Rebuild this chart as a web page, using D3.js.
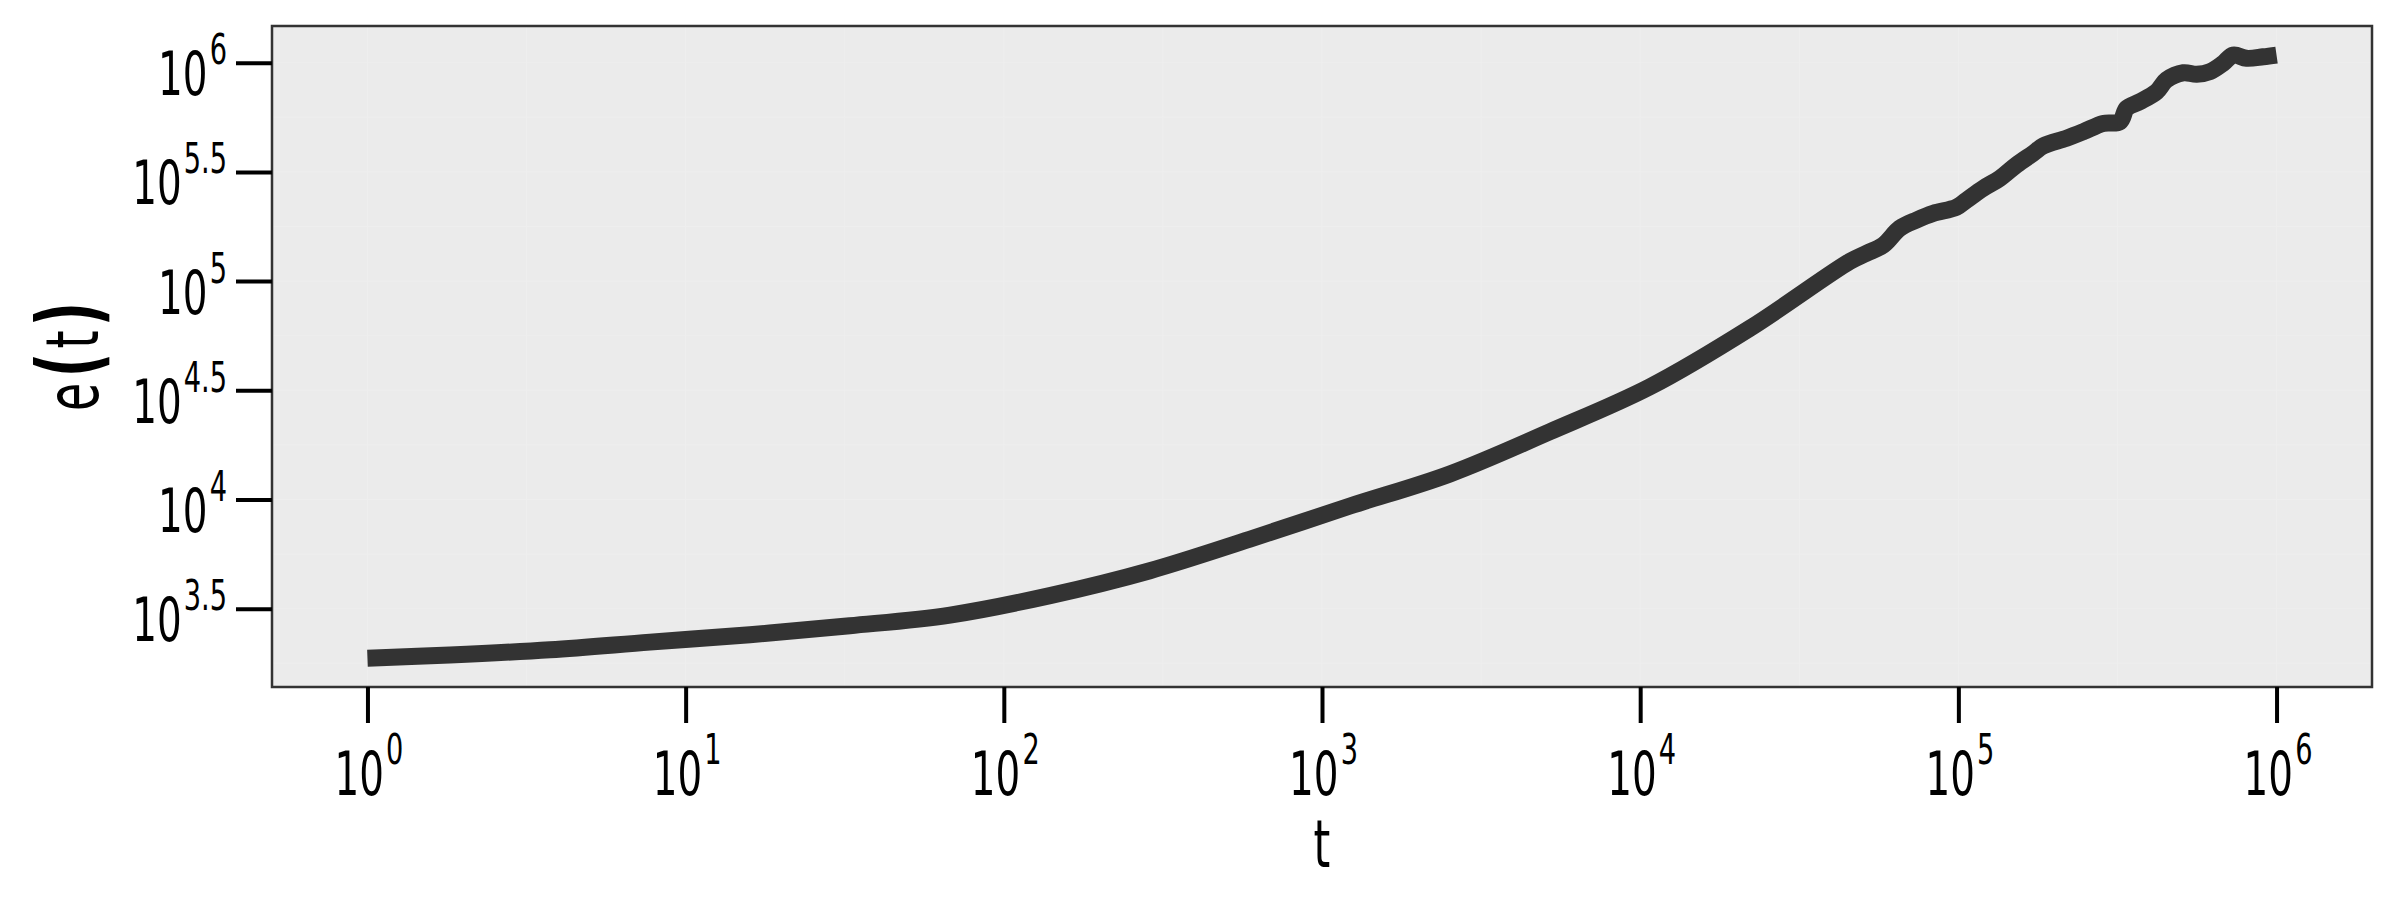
<!DOCTYPE html>
<html>
<head>
<meta charset="utf-8">
<script src="https://cdnjs.cloudflare.com/ajax/libs/d3/7.8.5/d3.min.js"></script>
<style>
body { margin: 0; background: #fff; }
#chart { width: 2400px; height: 900px; }
text { font-family: "Liberation Sans Narrow", "DejaVu Sans Condensed", sans-serif; fill: #000; }
</style>
</head>
<body>
<div id="chart"></div>
<script>
// values, in log10 units
const log10T = [0, 0.259, 0.574, 0.888, 1.202, 1.516, 1.831, 2.145, 2.459,
    2.773, 3.088, 3.402, 3.716, 4.031, 4.345, 4.659, 4.711, 4.764, 4.816,
    4.869, 4.921, 4.994, 5.026, 5.078, 5.131, 5.183, 5.235, 5.267, 5.340,
    5.393, 5.455, 5.508, 5.529, 5.570, 5.623, 5.654, 5.707, 5.749, 5.791,
    5.832, 5.864, 5.906, 5.958, 6.0]
const log10E = [3.273, 3.288, 3.312, 3.347, 3.381, 3.422, 3.471, 3.560, 3.674,
    3.818, 3.970, 4.117, 4.310, 4.516, 4.784, 5.090, 5.127, 5.165, 5.242,
    5.280, 5.310, 5.338, 5.371, 5.425, 5.471, 5.532, 5.585, 5.619, 5.654,
    5.684, 5.722, 5.730, 5.791, 5.821, 5.867, 5.921, 5.954, 5.947, 5.959,
    5.997, 6.035, 6.020, 6.027, 6.035]

const xTicks = [0, 1, 2, 3, 4, 5, 6]
const xTickSup = ["0", "1", "2", "3", "4", "5", "6"]
const yTicks = [3.5, 4, 4.5, 5, 5.5, 6]
const yTickSup = ["3.5", "4", "4.5", "5", "5.5", "6"]
const xMinor = [0.5, 1.5, 2.5, 3.5, 4.5, 5.5]
const yMinor = [3.25, 3.75, 4.25, 4.75, 5.25, 5.75]

const width = 2400, height = 900
const m = {left: 272, right: 28, top: 26, bottom: 213}
const squash = 0.72

const svg = d3.select("#chart").append("svg")
    .attr("width", width)
    .attr("height", height)

const x = d3.scaleLinear().domain([-0.3, 6.3]).range([m.left, width - m.right])
const y = d3.scaleLinear().domain([3.1415, 6.168]).range([height - m.bottom, m.top])

// panel
svg.append("rect")
    .attr("x", m.left).attr("y", m.top)
    .attr("width", width - m.left - m.right)
    .attr("height", height - m.top - m.bottom)
    .attr("fill", "#EBEBEB")

const grid = svg.append("g").attr("stroke", "#EEEEEE").attr("stroke-width", 1)
grid.selectAll("line.v")
    .data(xTicks.concat(xMinor))
    .join("line").attr("class", "v")
    .attr("x1", d => x(d)).attr("x2", d => x(d))
    .attr("y1", m.top).attr("y2", height - m.bottom)
grid.selectAll("line.h")
    .data(yTicks.concat(yMinor))
    .join("line").attr("class", "h")
    .attr("y1", d => y(d)).attr("y2", d => y(d))
    .attr("x1", m.left).attr("x2", width - m.right)

// the curve
const line = d3.line()
    .x(i => x(log10T[i]))
    .y(i => y(log10E[i]))
    .curve(d3.curveCatmullRom.alpha(0.5))

svg.append("path")
    .attr("d", line(d3.range(log10T.length)))
    .attr("fill", "none")
    .attr("stroke", "#333333")
    .attr("stroke-width", 17)
    .attr("stroke-linejoin", "round")
    .attr("stroke-linecap", "butt")

// border
svg.append("rect")
    .attr("x", m.left).attr("y", m.top)
    .attr("width", width - m.left - m.right)
    .attr("height", height - m.top - m.bottom)
    .attr("fill", "none")
    .attr("stroke", "#333333")
    .attr("stroke-width", 2.5)

// axes (ticks only, labels drawn as 10^k below)
const xAxis = svg.append("g")
    .attr("transform", `translate(0,${height - m.bottom})`)
    .call(d3.axisBottom(x).tickValues(xTicks).tickSize(36).tickFormat(""))
const yAxis = svg.append("g")
    .attr("transform", `translate(${m.left},0)`)
    .call(d3.axisLeft(y).tickValues(yTicks).tickSize(36).tickFormat(""))

for (const ax of [xAxis, yAxis]) {
    ax.select(".domain").remove()
    ax.selectAll(".tick line").attr("stroke", "#000").attr("stroke-width", 4)
}

function powLabel(g, sup, anchor) {
    const t = g.append("text")
        .attr("transform", `scale(${squash},1)`)
        .attr("text-anchor", anchor)
        .attr("font-size", 60)
    t.append("tspan").text("10")
    t.append("tspan").attr("font-size", 42).attr("dx", 3).attr("dy", -31).text(sup)
}

xAxis.selectAll(".tick").each(function(d, i) {
    const g = d3.select(this).append("g").attr("transform", "translate(1,108)")
    powLabel(g, xTickSup[i], "middle")
})
yAxis.selectAll(".tick").each(function(d, i) {
    const g = d3.select(this).append("g").attr("transform", "translate(-45,32)")
    powLabel(g, yTickSup[i], "end")
})

// axis titles
svg.append("g")
    .attr("transform", `translate(${(m.left + width - m.right) / 2},867)`)
    .append("text")
    .attr("transform", `scale(${squash},1)`)
    .attr("text-anchor", "middle")
    .attr("font-size", 66)
    .text("t")

const yt = svg.append("g")
    .attr("transform", `translate(98,${(m.top + height - m.bottom) / 2}) rotate(-90)`)
    .append("text")
    .attr("transform", "scale(0.7,1)")
    .attr("text-anchor", "middle")
    .attr("font-size", 73)
yt.append("tspan").text("e")
yt.append("tspan").attr("font-size", 85).attr("font-weight", "bold").attr("dx", 8).text("(")
yt.append("tspan").attr("dx", 6).text("t")
yt.append("tspan").attr("font-size", 85).attr("font-weight", "bold").attr("dx", 6).text(")")
</script>
</body>
</html>
